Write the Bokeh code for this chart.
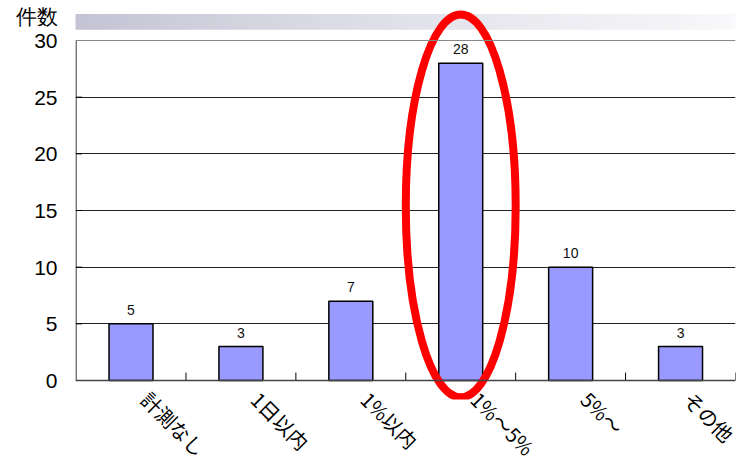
import math
from bokeh.plotting import figure
from bokeh.models import Range1d, FixedTicker, Span, BoxAnnotation
from bokeh.core.properties import value
from bokeh.embed import file_html
from bokeh.resources import INLINE

# ---- data ----
categories = ["計測なし", "1日以内", "1%以内", "1%～5%", "5%～", "その他"]
counts = [5, 3, 7, 28, 10, 3]
y_ticks = [0, 5, 10, 15, 20, 25, 30]
axis_title = "件数"
axis_title_at = 32.15
highlight = "1%～5%"

xpos = [i + 0.5 for i in range(len(categories))]
label_shift = 0.13
label_pos = [x + label_shift for x in xpos]

p = figure(x_range=Range1d(-0.005, len(categories)), y_range=Range1d(-1.676, 32.735),
           width=740, height=475, output_backend="svg", toolbar_location=None,
           min_border_left=75, min_border_right=5, min_border_top=9, min_border_bottom=76)
p.outline_line_color = None
p.background_fill_color = "white"
p.border_fill_color = "white"

# gradient band at the top (canvas units)
n = 74
for i in range(n):
    t = i / (n - 1)
    k = t ** 0.75
    r = int(184 + (249 - 184) * k)
    g = int(184 + (249 - 184) * k)
    b = int(204 + (251 - 204) * k)
    lvl = "guide" if i * 10 < 75 else "underlay"
    p.add_layout(BoxAnnotation(left=i * 10, right=i * 10 + 11, top=13.5, bottom=29.3,
                               left_units="canvas", right_units="canvas",
                               top_units="canvas", bottom_units="canvas",
                               fill_color=(r, g, b), fill_alpha=1.0,
                               line_color=None, level=lvl))

# grid
p.xgrid.grid_line_color = None
p.ygrid.ticker = FixedTicker(ticks=y_ticks[1:-1])
p.ygrid.grid_line_color = "#222222"
p.ygrid.grid_line_width = 1

p.add_layout(Span(location=y_ticks[-1], dimension="width", line_color="#888888", line_width=1))
p.add_layout(Span(location=0, dimension="width", line_color="#444444", line_width=1.5))

# y axis line and inward ticks
p.segment(x0=[0], y0=[y_ticks[0]], x1=[0], y1=[y_ticks[-1]], line_color="black", line_width=1)
p.segment(x0=[0] * len(y_ticks), y0=y_ticks, x1=[0.055] * len(y_ticks), y1=y_ticks,
          line_color="black", line_width=1)

# category boundary ticks
bounds = [i + 1 for i in range(len(categories))]
p.segment(x0=bounds, y0=[0] * len(bounds), x1=bounds, y1=[0.7] * len(bounds),
          line_color="black", line_width=1)

# bars
p.vbar(x=xpos, top=counts, width=0.4, fill_color="#9999FF",
       line_color="black", line_width=1.5)
p.text(x=xpos, y=counts, text=[str(c) for c in counts], y_offset=-9,
       text_align="center", text_baseline="bottom", text_font=value("Liberation Sans"),
       text_font_size="14px", text_color="#111111")

# highlight ellipse
hx = xpos[categories.index(highlight)]
p.ellipse(x=[hx], y=[15.4], width=1.0, height=33.8, fill_color=None,
          line_color="#FF0000", line_width=8)

# axes
p.yaxis.ticker = FixedTicker(ticks=y_ticks + [axis_title_at])
p.yaxis.major_label_overrides = {axis_title_at: axis_title}
p.yaxis.axis_line_color = None
p.yaxis.major_tick_line_color = None
p.yaxis.major_tick_in = 0
p.yaxis.major_tick_out = 0
p.yaxis.minor_tick_line_color = None
p.yaxis.major_label_standoff = 18
p.yaxis.major_label_text_font = "Liberation Sans"
p.yaxis.major_label_text_font_size = "21px"
p.yaxis.major_label_text_color = "black"

p.xaxis.ticker = FixedTicker(ticks=label_pos)
p.xaxis.major_label_overrides = {lp: c for lp, c in zip(label_pos, categories)}
p.xaxis.axis_line_color = None
p.xaxis.major_tick_line_color = None
p.xaxis.minor_tick_line_color = None
p.xaxis.major_tick_in = 0
p.xaxis.major_tick_out = 0
p.xaxis.major_label_standoff = -4
p.xaxis.major_label_orientation = -math.pi / 4
p.xaxis.major_label_text_font = "Noto Sans CJK JP"
p.xaxis.major_label_text_font_size = "20px"
p.xaxis.major_label_text_color = "black"

open("out.html", "w").write(file_html(p, INLINE))
